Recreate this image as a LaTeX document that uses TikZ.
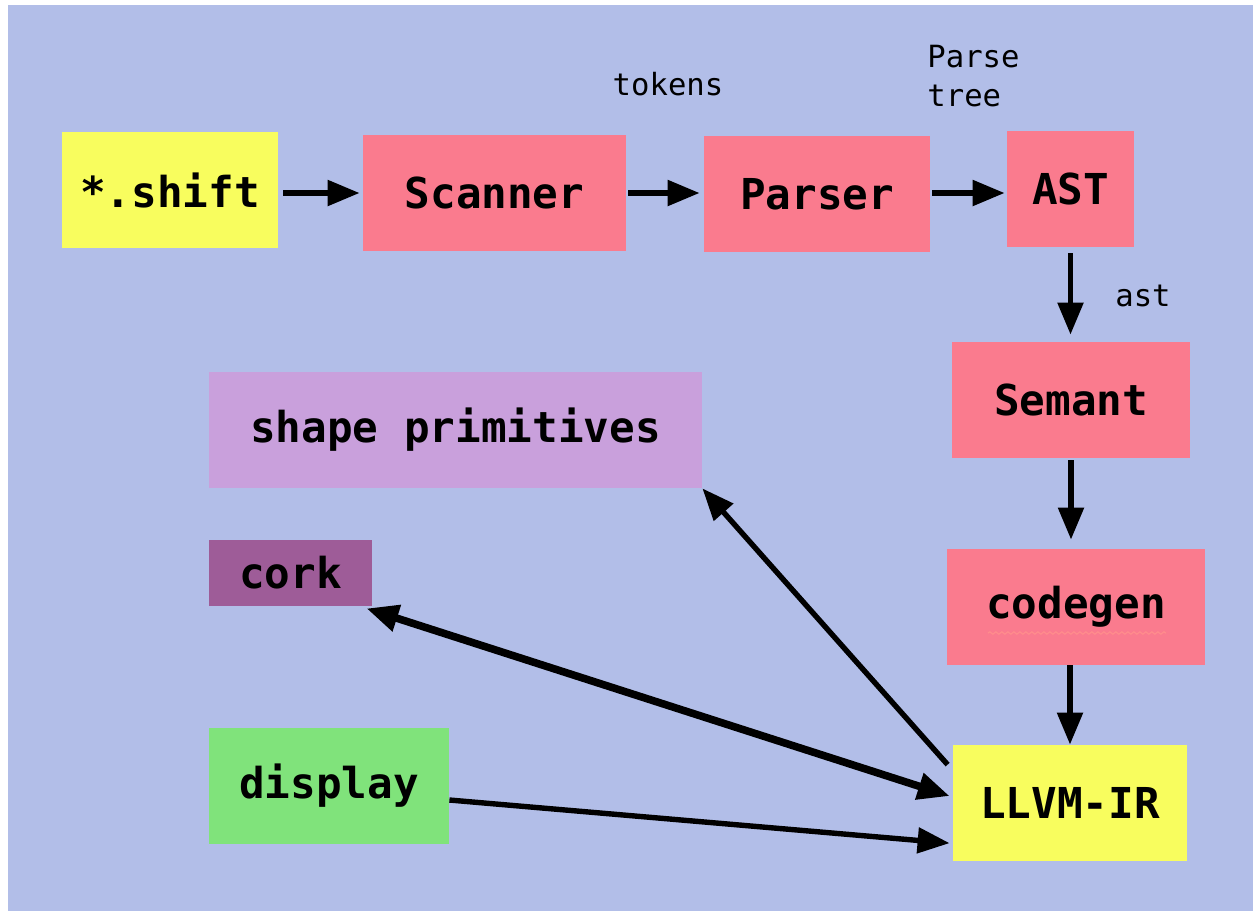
\documentclass[tikz,border=0pt]{standalone}
\usepackage{fontspec}
\setmonofont{DejaVu Sans Mono}
\usepackage{xcolor}
\usepackage{tikz}
\usetikzlibrary{positioning,arrows.meta,calc,decorations.pathmorphing}
\definecolor{bgblue}{RGB}{178,190,232}
\definecolor{stagepink}{RGB}{250,123,142}
\definecolor{fileyellow}{RGB}{248,253,94}
\definecolor{primlilac}{RGB}{201,160,220}
\definecolor{corkpurple}{RGB}{158,92,152}
\definecolor{dispgreen}{RGB}{128,227,123}
\tikzset{
  box/.style={inner sep=0pt, minimum height=58pt,
              font=\ttfamily\bfseries\fontsize{21.3}{25}\selectfont},
  stage/.style={box, fill=stagepink},
  yellowbox/.style={box, fill=fileyellow},
  lbl/.style={font=\ttfamily\fontsize{15.3}{19.5}\selectfont, inner sep=0pt},
  flow/.style={-{Triangle[length=16pt,width=12.5pt]}, line width=2.7pt, black},
  bigflow/.style={{Triangle[length=16pt,width=13pt]}-{Triangle[length=16pt,width=13pt]},
                  line width=3.8pt, black}
}

\begin{document}
\begin{tikzpicture}[x=0.5pt, y=-0.5pt]
\useasboundingbox (0,0) rectangle (1253,911);
\fill[bgblue] (8,5) rectangle (1253,911);
% front end
\node[yellowbox, minimum width=108pt] (shift) at (170,190) {*.shift};
\node[stage, minimum width=131.5pt] (scanner) at (494.5,193) {Scanner};
\node[stage, minimum width=113pt] (parser) at (817,194) {Parser};
\node[stage, minimum width=63.5pt] (ast) at (1070.5,189) {AST};
\node[stage, minimum width=119pt] (semant) at (1071,400) {Semant};
\node[stage, minimum width=129pt] (codegen) at (1076,607) {codegen};
\node[yellowbox, minimum width=117pt] (llvm) at (1070,803) {LLVM-IR};
% back end pieces
\node[box, fill=primlilac, minimum width=246.5pt] (shapes) at (455.5,430) {shape primitives};
\node[box, fill=corkpurple, minimum width=81.5pt, minimum height=33pt] (cork) at (290.5,573) {cork};
\node[box, fill=dispgreen, minimum width=120pt] (display) at (329,786) {display};
% labels
\node[lbl] (tokl) at (668,84) {tokens};
\node[lbl, align=left, anchor=west] (treel) at (927,76) {Parse\\tree};
\node[lbl] (astl) at (1143,296) {ast};
% spell-check squiggle
\draw[red!45, line width=0.6pt, decorate, decoration={snake, amplitude=0.6pt, segment length=3pt}]
  ($(codegen.center)+(-88,26)$) -- ++(178,0);
% arrows
\draw[flow, shorten <=2.5pt, shorten >=1.5pt] (shift.east |- scanner.west) -- (scanner.west);
\draw[flow, shorten <=1pt, shorten >=2pt] (scanner.east) -- (scanner.east -| parser.west);
\draw[flow, shorten <=1pt, shorten >=1pt] ($(parser.east)+(0,-1)$) -- ($(parser.east -| ast.west)+(0,-1)$);
\draw[flow, shorten <=3pt, shorten >=3.5pt] (ast.south) -- (ast.south |- semant.north);
\draw[flow, shorten <=1pt, shorten >=4.5pt] (semant.south) -- (semant.south |- codegen.north);
\draw[flow, shorten >=0pt] (codegen.south -| llvm.north) -- (llvm.north);
\draw[flow, shorten >=0pt] ($(llvm.north west)+(-5,20)$) -- (shapes.south east);
\draw[bigflow, shorten <=1.5pt, shorten >=0pt] ($(llvm.west)+(0,-6)$) -- ($(cork.south east)+(-6,2)$);
\draw[flow, shorten >=1.5pt] ($(display.east)+(0,14)$) -- ($(llvm.south west)+(0,-18)$);
\end{tikzpicture}
\end{document}
